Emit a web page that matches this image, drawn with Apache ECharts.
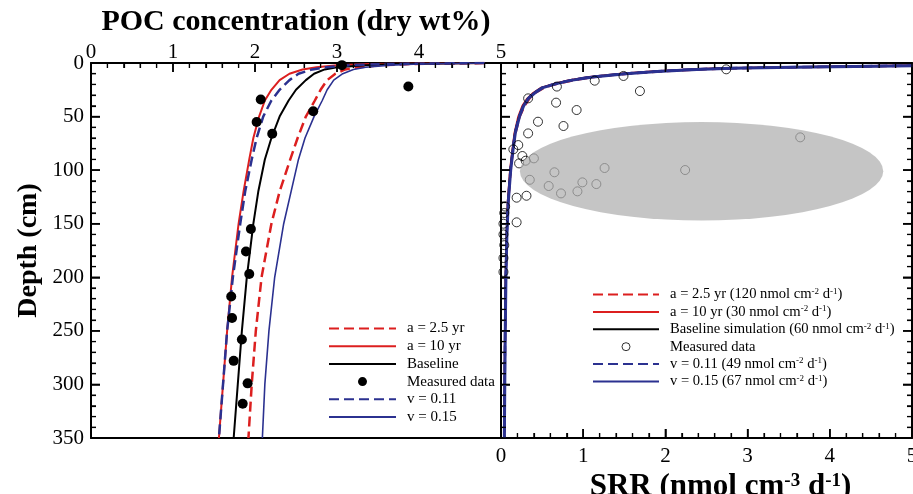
<!DOCTYPE html>
<html>
<head>
<meta charset="utf-8">
<script src="https://cdn.jsdelivr.net/npm/echarts@6/dist/echarts.min.js"></script>
<style>
html, body { margin: 0; padding: 0; background: #fff; }
#chart { width: 913px; height: 494px; }
</style>
</head>
<body>
<div id="chart"></div>
<script>
// POC model curves: depth (cm) vs POC (dry wt%)
const pocDepth    = [0, 1, 2, 4, 6, 10, 16, 25, 35, 50, 70, 90, 120, 150, 200, 250, 300, 350];
const pocA25      = [4.8, 3.9, 3.55, 3.25, 3.1, 2.98, 2.88, 2.8, 2.73, 2.62, 2.52, 2.43, 2.3, 2.2, 2.08, 2.01, 1.96, 1.92];
const pocA10      = [4.8, 3.4, 3.0, 2.75, 2.58, 2.42, 2.3, 2.2, 2.12, 2.05, 1.98, 1.93, 1.86, 1.8, 1.72, 1.66, 1.61, 1.56];
const pocBase     = [4.8, 3.7, 3.35, 3.0, 2.85, 2.72, 2.62, 2.5, 2.41, 2.3, 2.2, 2.12, 2.04, 1.98, 1.9, 1.84, 1.79, 1.74];
const pocV011     = [4.8, 3.55, 3.15, 2.87, 2.7, 2.53, 2.42, 2.3, 2.2, 2.1, 2.02, 1.96, 1.88, 1.82, 1.73, 1.66, 1.61, 1.56];
const pocV015     = [4.8, 4.0, 3.65, 3.35, 3.2, 3.07, 2.96, 2.88, 2.82, 2.72, 2.61, 2.53, 2.44, 2.35, 2.24, 2.17, 2.12, 2.09];

// measured POC
const pocMeasDepth = [2, 22, 34, 45, 55, 66, 155, 176, 197, 218, 238, 258, 278, 299, 318];
const pocMeasValue = [3.06, 3.87, 2.07, 2.71, 2.02, 2.21, 1.95, 1.89, 1.93, 1.71, 1.72, 1.84, 1.74, 1.91, 1.85];

// SRR model curves: depth (cm) vs SRR (nmol cm-3 d-1)
const srrDepth = [0, 1, 2, 3, 4, 5, 6, 8, 10, 13, 16, 19, 23, 28, 33, 40, 50, 65, 80, 100, 130, 160, 200, 250, 300, 350];
const srrA25   = [14, 8.2, 5.8, 4.7, 3.7, 2.9, 2.45, 1.95, 1.56, 1.15, 0.9, 0.71, 0.53, 0.42, 0.35, 0.29, 0.23, 0.18, 0.15, 0.12, 0.09, 0.072, 0.06, 0.052, 0.047, 0.043];
const srrA10   = [11, 7.2, 5.2, 4.3, 3.4, 2.65, 2.28, 1.82, 1.45, 1.07, 0.83, 0.66, 0.49, 0.39, 0.32, 0.26, 0.21, 0.165, 0.14, 0.11, 0.082, 0.068, 0.056, 0.048, 0.043, 0.038];
const srrBase  = [12, 7.5, 5.4, 4.5, 3.5, 2.75, 2.35, 1.88, 1.5, 1.1, 0.86, 0.68, 0.5, 0.4, 0.33, 0.27, 0.22, 0.17, 0.145, 0.115, 0.085, 0.07, 0.058, 0.05, 0.045, 0.04];
const srrV011  = [12, 7.4, 5.3, 4.4, 3.45, 2.7, 2.3, 1.85, 1.47, 1.08, 0.85, 0.67, 0.5, 0.4, 0.33, 0.27, 0.22, 0.17, 0.145, 0.115, 0.085, 0.07, 0.058, 0.05, 0.045, 0.04];
const srrV015  = [12.5, 7.6, 5.5, 4.55, 3.55, 2.8, 2.38, 1.9, 1.52, 1.12, 0.87, 0.69, 0.51, 0.41, 0.335, 0.275, 0.225, 0.175, 0.148, 0.118, 0.088, 0.072, 0.06, 0.052, 0.046, 0.041];

// measured SRR
const srrMeasDepth = [5.9, 12.1, 16.5, 26.2, 22, 33, 37, 43.9, 54.8, 58.8, 65.7, 76.6, 80.6, 69.4, 86.8, 89, 91.2, 93.7, 98, 99.9, 102, 109, 111.4, 113, 114.8, 119.8, 121.7, 123.9, 125.7, 134, 140, 148.7, 150, 160, 170, 182, 195];
const srrMeasValue = [2.74, 1.49, 1.14, 1.69, 0.68, 0.33, 0.67, 0.92, 0.45, 0.76, 0.33, 0.21, 0.15, 3.64, 0.26, 0.40, 0.30, 0.22, 1.26, 2.24, 0.65, 0.35, 0.99, 1.16, 0.58, 0.93, 0.73, 0.31, 0.19, 0.05, 0.04, 0.19, 0.03, 0.03, 0.04, 0.03, 0.03];

// shaded region (centre SRR, centre depth, half width, half height)
const shade = [2.44, 101, 2.21, 46];

// tick positions
const xMajor = [0, 1, 2, 3, 4, 5];
const xMinor = [0.2, 0.4, 0.6, 0.8, 1.2, 1.4, 1.6, 1.8, 2.2, 2.4, 2.6, 2.8, 3.2, 3.4, 3.6, 3.8, 4.2, 4.4, 4.6, 4.8];
const yMajor = [0, 50, 100, 150, 200, 250, 300, 350];
const yMinor = [10, 20, 30, 40, 60, 70, 80, 90, 110, 120, 130, 140, 160, 170, 180, 190,
                210, 220, 230, 240, 260, 270, 280, 290, 310, 320, 330, 340];

const leftNames  = ['a = 2.5 yr', 'a = 10 yr', 'Baseline', 'Measured data', 'v = 0.11', 'v = 0.15'];
const rightNames = [
  'a = 2.5 yr (120 nmol cm-2 d-1)',
  'a = 10 yr (30 nmol cm-2 d-1)',
  'Baseline simulation (60 nmol cm-2 d-1)',
  'Measured data ',
  'v = 0.11 (49 nmol cm-2 d-1)',
  'v = 0.15 (67 nmol cm-2 d-1)'
];

const RED = '#dc1f1f';
const BLUE = '#2b3190';
const FONT = 'Liberation Serif';
const MAJOR = 9, MINOR = 5;

const pairs = (xs, ys) => xs.map((x, i) => [x, ys[i]]);

const chart = echarts.init(document.getElementById('chart'));

const axisLine = () => ({ show: true, onZero: false, lineStyle: { color: '#000', width: 2 } });
const labelStyle = (margin) => ({ show: true, margin: margin, color: '#000', fontFamily: FONT, fontSize: 21 });
const ticks = () => ({
  axisTick: { show: true, inside: true, length: MAJOR, lineStyle: { color: '#000', width: 1.5 } },
  minorTick: { show: true, splitNumber: 5, length: MINOR, lineStyle: { color: '#000', width: 1.2 } },
  splitLine: { show: false }
});

function lineSeries(name, data, color, dashed, width, xi, yi) {
  return {
    name: name, type: 'line', data: data, xAxisIndex: xi, yAxisIndex: yi,
    symbol: 'none', smooth: false, clip: true, z: 3,
    lineStyle: { color: color, width: width, type: dashed ? [10, 5] : 'solid' },
    itemStyle: { color: color }
  };
}

// rich markup for names with superscripts ("cm-2" -> cm{s|-2})
function richName(name) {
  const parts = name.split(/(-\d)/);
  let out = '{f|}';
  parts.forEach(p => {
    if (!p) return;
    out += /^-\d$/.test(p) ? '{s|' + p + '}' : '{n|' + p + '}';
  });
  return out;
}

const legendText = (size) => ({
  color: '#000', fontFamily: FONT, fontSize: size,
  rich: {
    f: { width: 6 },
    n: { fontFamily: FONT, fontSize: size, color: '#000' },
    s: { fontFamily: FONT, fontSize: 9, color: '#000', verticalAlign: 'top', padding: [0, 0, 6, 0] }
  }
});

// line entries show only their line sample in the legend
const legendData = (names) => names.map(n => n.indexOf('Measured') === 0
  ? { name: n, itemStyle: { borderWidth: 1 } }
  : { name: n, itemStyle: { opacity: 0 } });

chart.setOption({
  animation: false,
  backgroundColor: '#fff',
  grid: [
    { left: 91, top: 63, width: 410, height: 375, outerBoundsMode: 'none', containLabel: false },
    { left: 501, top: 63, width: 411, height: 375, outerBoundsMode: 'none', containLabel: false }
  ],
  legend: [
    {
      data: legendData(leftNames), orient: 'vertical', left: 328, top: 321, padding: 0,
      itemWidth: 67, itemHeight: 9, itemGap: 2.7, selectedMode: false,
      formatter: richName, textStyle: legendText(15)
    },
    {
      data: legendData(rightNames), orient: 'vertical', left: 592, top: 287, padding: 0,
      itemWidth: 66, itemHeight: 8, itemGap: 2.4, selectedMode: false,
      formatter: richName, textStyle: legendText(14.6)
    }
  ],
  xAxis: [
    Object.assign({
      gridIndex: 0, type: 'value', position: 'top', min: 0, max: 5, interval: 1,
      name: 'POC concentration (dry wt%)', nameLocation: 'middle', nameGap: 8,
      nameTextStyle: { color: '#000', fontFamily: FONT, fontSize: 30, fontWeight: 'bold' },
      axisLine: axisLine(), axisLabel: labelStyle(0)
    }, ticks()),
    {
      gridIndex: 0, type: 'value', position: 'bottom', min: 0, max: 5, interval: 1,
      axisLine: axisLine(), axisLabel: { show: false },
      axisTick: { show: false }, minorTick: { show: false }, splitLine: { show: false }
    },
    Object.assign({
      gridIndex: 1, type: 'value', position: 'bottom', min: 0, max: 5, interval: 1,
      name: 'SRR (nmol cm{s|-3} d{s|-1})', nameLocation: 'middle', nameGap: 18,
      nameTextStyle: {
        color: '#000', fontFamily: FONT, fontSize: 31, fontWeight: 'bold', padding: [0, 0, 0, 28],
        rich: { s: { fontFamily: FONT, fontSize: 19, fontWeight: 'bold', color: '#000', verticalAlign: 'top', padding: [0, 0, 12, 0] } }
      },
      axisLine: axisLine(), axisLabel: labelStyle(8)
    }, ticks()),
    Object.assign({
      gridIndex: 1, type: 'value', position: 'top', min: 0, max: 5, interval: 1,
      axisLine: axisLine(), axisLabel: { show: false }
    }, ticks())
  ],
  yAxis: [
    Object.assign({
      gridIndex: 0, type: 'value', position: 'left', inverse: true, min: 0, max: 350, interval: 50,
      name: 'Depth (cm)', nameLocation: 'middle', nameGap: 48, nameRotate: 90,
      nameTextStyle: { color: '#000', fontFamily: FONT, fontSize: 28, fontWeight: 'bold' },
      axisLine: axisLine(), axisLabel: labelStyle(7)
    }, ticks()),
    Object.assign({
      gridIndex: 1, type: 'value', position: 'left', inverse: true, min: 0, max: 350, interval: 50,
      axisLine: axisLine(), axisLabel: { show: false }
    }, ticks()),
    Object.assign({
      gridIndex: 1, type: 'value', position: 'right', inverse: true, min: 0, max: 350, interval: 50,
      axisLine: axisLine(), axisLabel: { show: false }
    }, ticks())
  ],
  series: [
    lineSeries(leftNames[0], pairs(pocA25, pocDepth), RED, true, 2.5, 0, 0),
    lineSeries(leftNames[1], pairs(pocA10, pocDepth), RED, false, 2, 0, 0),
    lineSeries(leftNames[2], pairs(pocBase, pocDepth), '#000', false, 2, 0, 0),
    {
      name: leftNames[3], type: 'scatter', xAxisIndex: 0, yAxisIndex: 0, z: 4,
      data: pairs(pocMeasValue, pocMeasDepth), symbol: 'circle', symbolSize: 10,
      itemStyle: { color: '#000', opacity: 1 }
    },
    lineSeries(leftNames[4], pairs(pocV011, pocDepth), BLUE, true, 2.5, 0, 0),
    lineSeries(leftNames[5], pairs(pocV015, pocDepth), BLUE, false, 1.6, 0, 0),

    lineSeries(rightNames[0], pairs(srrA25, srrDepth), RED, true, 2, 2, 1),
    lineSeries(rightNames[1], pairs(srrA10, srrDepth), RED, false, 2, 2, 1),
    lineSeries(rightNames[2], pairs(srrBase, srrDepth), '#000', false, 2, 2, 1),
    {
      name: rightNames[3], type: 'scatter', xAxisIndex: 2, yAxisIndex: 1, z: 4,
      data: pairs(srrMeasValue, srrMeasDepth), symbol: 'circle', symbolSize: 9,
      itemStyle: { color: 'rgba(255,255,255,0)', borderColor: '#000', borderWidth: 1 }
    },
    lineSeries(rightNames[4], pairs(srrV011, srrDepth), BLUE, true, 2.5, 2, 1),
    lineSeries(rightNames[5], pairs(srrV015, srrDepth), BLUE, false, 3, 2, 1),
    {
      type: 'custom', xAxisIndex: 2, yAxisIndex: 1, z: 5, silent: true,
      data: [shade],
      renderItem: function (params, api) {
        const c = api.coord([api.value(0), api.value(1)]);
        const s = api.size([api.value(2), api.value(3)]);
        return {
          type: 'circle', x: c[0], y: c[1], scaleY: s[1] / s[0],
          shape: { cx: 0, cy: 0, r: s[0] },
          style: { fill: 'rgba(175,175,175,0.72)' }
        };
      }
    }
  ]
});

// inward ticks as overlay lines, placed through the axes' own scales
const px = (xi, v) => chart.convertToPixel({ xAxisIndex: xi }, v);
const py = (yi, v) => chart.convertToPixel({ yAxisIndex: yi }, v);
const tickEls = [];
function addTick(x, y, dx, dy, major) {
  tickEls.push({
    type: 'line', z: 100, silent: true,
    shape: { x1: x, y1: y, x2: x + dx, y2: y + dy },
    style: { stroke: '#000', lineWidth: major ? 1.5 : 1.2 }
  });
}
function xTicks(xi, yi, depth, dir) {
  const y = py(yi, depth);
  xMajor.forEach(v => addTick(px(xi, v), y, 0, dir * MAJOR, true));
  xMinor.forEach(v => addTick(px(xi, v), y, 0, dir * MINOR, false));
}
function yTicks(xi, yi, xv, dir) {
  const x = px(xi, xv);
  yMajor.forEach(v => addTick(x, py(yi, v), dir * MAJOR, 0, true));
  yMinor.forEach(v => addTick(x, py(yi, v), dir * MINOR, 0, false));
}
xTicks(0, 0, 0, 1);      // POC panel, top
yTicks(0, 0, 0, 1);      // POC panel, left
xTicks(2, 1, 0, 1);      // SRR panel, top
xTicks(2, 1, 350, -1);   // SRR panel, bottom
yTicks(2, 1, 0, 1);      // SRR panel, left
yTicks(2, 1, 5, -1);     // SRR panel, right
chart.setOption({ graphic: { elements: tickEls } });
</script>
</body>
</html>
